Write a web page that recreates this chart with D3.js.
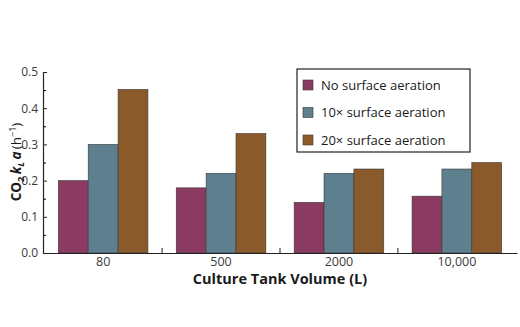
<!DOCTYPE html>
<html>
<head>
<meta charset="utf-8">
<script src="https://cdn.jsdelivr.net/npm/d3@7"></script>
<style>
  body { margin: 0; background: #fff; }
  svg { display: block; font-family: 'Open Sans', sans-serif; }
</style>
</head>
<body>
<script>
// CO2 kLa for each tank size and aeration setting
var volumes = ['80', '500', '2000', '10,000'];
var seriesNames = ['No surface aeration', '10\u00d7 surface aeration', '20\u00d7 surface aeration'];
var noAeration = [0.20, 0.18, 0.14, 0.157];
var aeration10x = [0.30, 0.22, 0.22, 0.232];
var aeration20x = [0.452, 0.33, 0.232, 0.25];
var yTicks = [0, 0.1, 0.2, 0.3, 0.4, 0.5];
var yMinorTicks = [0.05, 0.15, 0.25, 0.35, 0.45];

var colors = ['#8b3a62', '#5e7f8e', '#8b5a2b'];
var seriesValues = [noAeration, aeration10x, aeration20x];

var rows = volumes.map(function(v, i) {
    return { volume: v, values: seriesValues.map(function(s) { return s[i]; }) };
});

var width = 520, height = 327;
var svg = d3.select('body')
    .append('svg')
    .attr('width', width)
    .attr('height', height);

var x = d3.scaleBand()
    .domain(volumes)
    .range([43, 517])
    .paddingInner(0.24)
    .paddingOuter(0.13);

var xs = d3.scaleBand()
    .domain(d3.range(seriesNames.length))
    .range([0, x.bandwidth()]);

var y = d3.scaleLinear()
    .domain([0, 0.5])
    .range([253, 72]);

// bars
var groups = svg.selectAll('g.group')
    .data(rows)
    .enter().append('g')
    .attr('class', 'group')
    .attr('transform', function(d) { return 'translate(' + x(d.volume) + ',0)'; });

groups.selectAll('rect')
    .data(function(d) { return d.values; })
    .enter().append('rect')
    .attr('x', function(d, i) { return xs(i); })
    .attr('y', function(d) { return y(d); })
    .attr('width', xs.bandwidth())
    .attr('height', function(d) { return y(0) - y(d); })
    .attr('fill', function(d, i) { return colors[i]; })
    .attr('stroke', '#3a3a3a')
    .attr('stroke-width', 0.6);

// y axis, ticks point into the plot
var yAxis = svg.append('g')
    .attr('transform', 'translate(43,0)')
    .call(d3.axisLeft(y)
        .tickValues(yTicks)
        .tickFormat(d3.format('.1f'))
        .tickSizeInner(-4)
        .tickSizeOuter(0)
        .tickPadding(5));

svg.append('g')
    .attr('transform', 'translate(43,0)')
    .call(d3.axisLeft(y)
        .tickValues(yMinorTicks)
        .tickFormat('')
        .tickSizeInner(-3)
        .tickSizeOuter(0))
    .select('.domain').remove();

yAxis.selectAll('text')
    .attr('font-size', 12)
    .attr('font-family', 'Open Sans')
    .attr('fill', '#3a3a3a');
yAxis.select('.domain').attr('stroke', '#222').attr('stroke-width', 1.2);
yAxis.selectAll('.tick line').attr('stroke', '#222');

// x axis
var xAxis = svg.append('g')
    .attr('transform', 'translate(0,253)')
    .call(d3.axisBottom(x).tickSize(0).tickSizeOuter(0).tickPadding(4));

xAxis.selectAll('text')
    .attr('font-size', 12.5)
    .attr('font-family', 'Open Sans')
    .attr('fill', '#3a3a3a');
xAxis.select('.domain').attr('stroke', '#222').attr('stroke-width', 1.2);

// small separators between the groups
var gap = x.step() * x.paddingInner();
svg.append('g')
    .selectAll('line')
    .data(volumes.slice(1))
    .enter().append('line')
    .attr('x1', function(d) { return x(d) - gap / 2; })
    .attr('x2', function(d) { return x(d) - gap / 2; })
    .attr('y1', 253)
    .attr('y2', 248)
    .attr('stroke', '#222');

// axis titles
svg.append('text')
    .attr('x', 280)
    .attr('y', 284)
    .attr('text-anchor', 'middle')
    .attr('font-size', 14.5)
    .attr('font-weight', 'bold')
    .attr('fill', '#1a1a1a')
    .text('Culture Tank Volume (L)');

var yTitle = svg.append('text')
    .attr('transform', 'translate(21,162) rotate(-90)')
    .attr('text-anchor', 'middle')
    .attr('font-size', 13.5)
    .attr('font-weight', 'bold')
    .attr('fill', '#1a1a1a');
yTitle.append('tspan').text('CO');
yTitle.append('tspan').attr('font-size', 9.5).attr('dy', 3).text('2');
yTitle.append('tspan').attr('dy', -3).text('\u2009');
yTitle.append('tspan').attr('font-style', 'italic').text('k');
yTitle.append('tspan').attr('font-style', 'italic').attr('font-size', 9.5).attr('dy', 3).text('L');
yTitle.append('tspan').attr('font-style', 'italic').attr('dy', -3).text('\u2009a');
yTitle.append('tspan').attr('font-weight', 'normal').text('\u2009(h');
yTitle.append('tspan').attr('font-weight', 'normal').attr('font-size', 9).attr('dy', -5).text('\u22121');
yTitle.append('tspan').attr('font-weight', 'normal').attr('dy', 5).text(')');

// legend
var legend = svg.append('g').attr('transform', 'translate(297,69)');
legend.append('rect')
    .attr('width', 173)
    .attr('height', 83)
    .attr('fill', '#fff')
    .attr('stroke', '#222')
    .attr('stroke-width', 1.2);

var items = legend.selectAll('g.item')
    .data(seriesNames)
    .enter().append('g')
    .attr('class', 'item')
    .attr('transform', function(d, i) { return 'translate(6,' + (16 + i * 27.5) + ')'; });

items.append('rect')
    .attr('x', 0)
    .attr('y', -5)
    .attr('width', 10)
    .attr('height', 10)
    .attr('fill', function(d, i) { return colors[i]; })
    .attr('stroke', '#3a3a3a')
    .attr('stroke-width', 0.6);

items.append('text')
    .attr('x', 18)
    .attr('y', 0)
    .attr('dy', '0.35em')
    .attr('font-size', 13)
    .attr('fill', '#1a1a1a')
    .text(function(d) { return d; });
</script>
</body>
</html>
